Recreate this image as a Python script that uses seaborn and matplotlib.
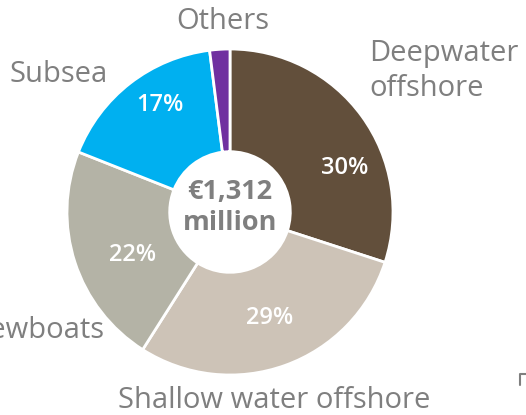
import matplotlib
matplotlib.use("Agg")
import matplotlib.pyplot as plt
import seaborn as sns

sns.set_theme(style="white")
plt.rcParams['font.family'] = ['Open Sans', 'DejaVu Sans']

segments = ["Deepwater\noffshore", "Shallow water offshore", "Crewboats", "Subsea", "Others"]
shares = [30, 29, 22, 17, 2]
pct_labels = ["30%", "29%", "22%", "17%", ""]
colors = ["#624f3b", "#cdc3b7", "#b4b3a6", "#00b0f0", "#7030a0"]
total_label = "€1,312\nmillion"

fig = plt.figure(figsize=(5.26, 4.15), dpi=100)
ax = fig.add_axes([0, 0, 1, 1])
H = 415
cx, cy, R = 230, H - 212, 163

wedges, _ = ax.pie(shares, colors=colors, startangle=90, counterclock=False,
                   center=(cx, cy), radius=R,
                   wedgeprops=dict(width=R * 0.63, edgecolor="white", linewidth=2))
ax.set_xlim(0, 526)
ax.set_ylim(0, H)
ax.set_aspect('equal')
ax.axis('off')

grey = "#7f7f7f"
# percentage labels (pixel positions)
pct_pos = [(345, 168), (270, 318), (133, 255), (160, 105)]
for (x, y), t in zip(pct_pos, pct_labels[:4]):
    ax.text(x, H - y, t, color="white", fontsize=17, fontweight="semibold",
            ha="center", va="center")

# center text
ax.text(cx, H - 208, total_label, color=grey, fontsize=19.5, fontweight="bold",
        ha="center", va="center", linespacing=1.25)

# category labels
fs = 21
ax.text(223, H - 22, segments[4], color=grey, fontsize=fs, ha="center", va="center")
ax.text(369, H - 71, segments[0], color=grey, fontsize=fs, ha="left", va="center", linespacing=1.3)
ax.text(108, H - 75, segments[3], color=grey, fontsize=fs, ha="right", va="center")
ax.text(104, H - 330, segments[2], color=grey, fontsize=fs, ha="right", va="center")
ax.text(274, H - 400, segments[1], color=grey, fontsize=fs, ha="center", va="center")

# small corner mark
ax.plot([520, 520, 526], [H - 385, H - 374, H - 374], color=grey, lw=1.5)

fig.savefig("out.png", dpi=100)
